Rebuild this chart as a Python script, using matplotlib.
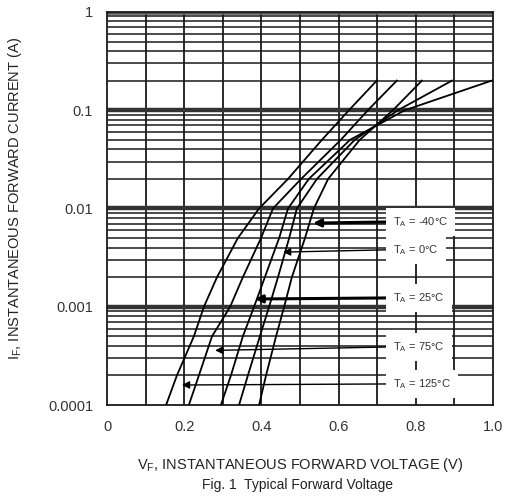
import numpy as np
import matplotlib
matplotlib.use('Agg')
from matplotlib import pyplot as plt
from matplotlib.ticker import LogLocator, NullFormatter, FixedLocator

plt.rcParams['font.family'] = ['Liberation Sans', 'DejaVu Sans']
plt.rcParams['mathtext.default'] = 'regular'

current = [1e-4, 2e-4, 5e-4, 1e-3, 2e-3, 5e-3, 1e-2, 2e-2, 5e-2, 0.1, 0.2]

# forward voltage (V) for each ambient temperature
vf_125 = [0.153, 0.181, 0.225, 0.251, 0.285, 0.339, 0.394, 0.469, 0.557, 0.627, 0.699]
vf_75 = [0.212, 0.238, 0.272, 0.319, 0.352, 0.399, 0.430, 0.503, 0.606, 0.676, 0.751]
vf_25 = [0.295, 0.321, 0.352, 0.381, 0.409, 0.446, 0.469, 0.523, 0.630, 0.772, 0.997]
vf_0 = [0.342, 0.365, 0.396, 0.420, 0.443, 0.472, 0.492, 0.544, 0.642, 0.754, 0.894]
vf_m40 = [0.394, 0.412, 0.438, 0.459, 0.479, 0.513, 0.536, 0.573, 0.655, 0.741, 0.816]

curves = [vf_m40, vf_0, vf_25, vf_75, vf_125]
temp_labels = ['T$_A$ = -40°C', 'T$_A$ = 0°C', 'T$_A$ = 25°C', 'T$_A$ = 75°C', 'T$_A$ = 125°C']

x_ticks = [0, 0.2, 0.4, 0.6, 0.8, 1.0]
x_ticklabels = ['0', '0.2', '0.4', '0.6', '0.8', '1.0']
y_ticks = [1e-4, 1e-3, 1e-2, 1e-1, 1]
y_ticklabels = ['0.0001', '0.001', '0.01', '0.1', '1']

fig = plt.figure(figsize=(5.05, 4.97), dpi=100)
ax = fig.add_axes([0.212, 0.185, 0.764, 0.791])

# grid first so the curves sit on top
for v in np.arange(0.1, 1.0, 0.1):
    ax.axvline(v, color='#1a1a1a', lw=1.3, zorder=1)
ax.set_yscale('log')
ax.set_xlim(0, 1.0)
ax.set_ylim(1e-4, 1)
ax.yaxis.set_minor_locator(LogLocator(base=10, subs=np.arange(2, 10)))
ax.yaxis.set_minor_formatter(NullFormatter())
ax.grid(True, which='minor', axis='y', color='#1a1a1a', lw=1.1, zorder=1)
for d in y_ticks[1:-1]:
    ax.axhline(d, color='#333333', lw=3.2, zorder=1)
ax.axhline(1, color='#555555', lw=4, zorder=1)

for vf in curves:
    ax.plot(vf, current, color='black', lw=1.3, zorder=3)

# temperature labels with leader arrows (label y, arrow tip x, arrow tip y, line width)
label_pos = [(0.0073, 0.534, 0.0071, 2.2),
             (0.0038, 0.456, 0.0036, 1.0),
             (0.00123, 0.383, 0.0012, 2.2),
             (0.00039, 0.280, 0.00036, 1.0),
             (0.000164, 0.194, 0.00016, 1.0)]
for txt, (ly, tx, ty, lw) in zip(temp_labels, label_pos):
    ax.annotate('', xy=(tx, ty), xytext=(0.73, ly),
                arrowprops=dict(arrowstyle='-|>', color='black', lw=lw,
                                mutation_scale=11, shrinkA=0, shrinkB=0),
                zorder=4)
    ax.text(0.742, ly, txt, fontsize=8, color='#333333', va='center', ha='left',
            bbox=dict(facecolor='white', edgecolor='none', pad=5), zorder=5)

ax.xaxis.set_major_locator(FixedLocator(x_ticks))
ax.set_xticklabels(x_ticklabels)
ax.yaxis.set_major_locator(FixedLocator(y_ticks))
ax.set_yticklabels(y_ticklabels)
ax.tick_params(axis='both', which='both', length=0, labelsize=10.5, labelcolor='#333333')
ax.tick_params(axis='x', pad=11)
ax.tick_params(axis='y', pad=10)
for s in ax.spines.values():
    s.set_linewidth(1.3)
    s.set_color('#1a1a1a')

fig.text(0.594, 0.064, 'V$_F$, INSTANTANEOUS FORWARD VOLTAGE (V)', ha='center', va='center',
         fontsize=10.5, color='#222222')
fig.text(0.59, 0.024, 'Fig. 1  Typical Forward Voltage', ha='center', va='center',
         fontsize=10, color='#222222')
fig.text(0.03, 0.6, 'I$_F$, INSTANTANEOUS FORWARD CURRENT (A)', ha='center', va='center',
         rotation=90, fontsize=10.5, color='#222222')

fig.savefig('out.png', dpi=100)
